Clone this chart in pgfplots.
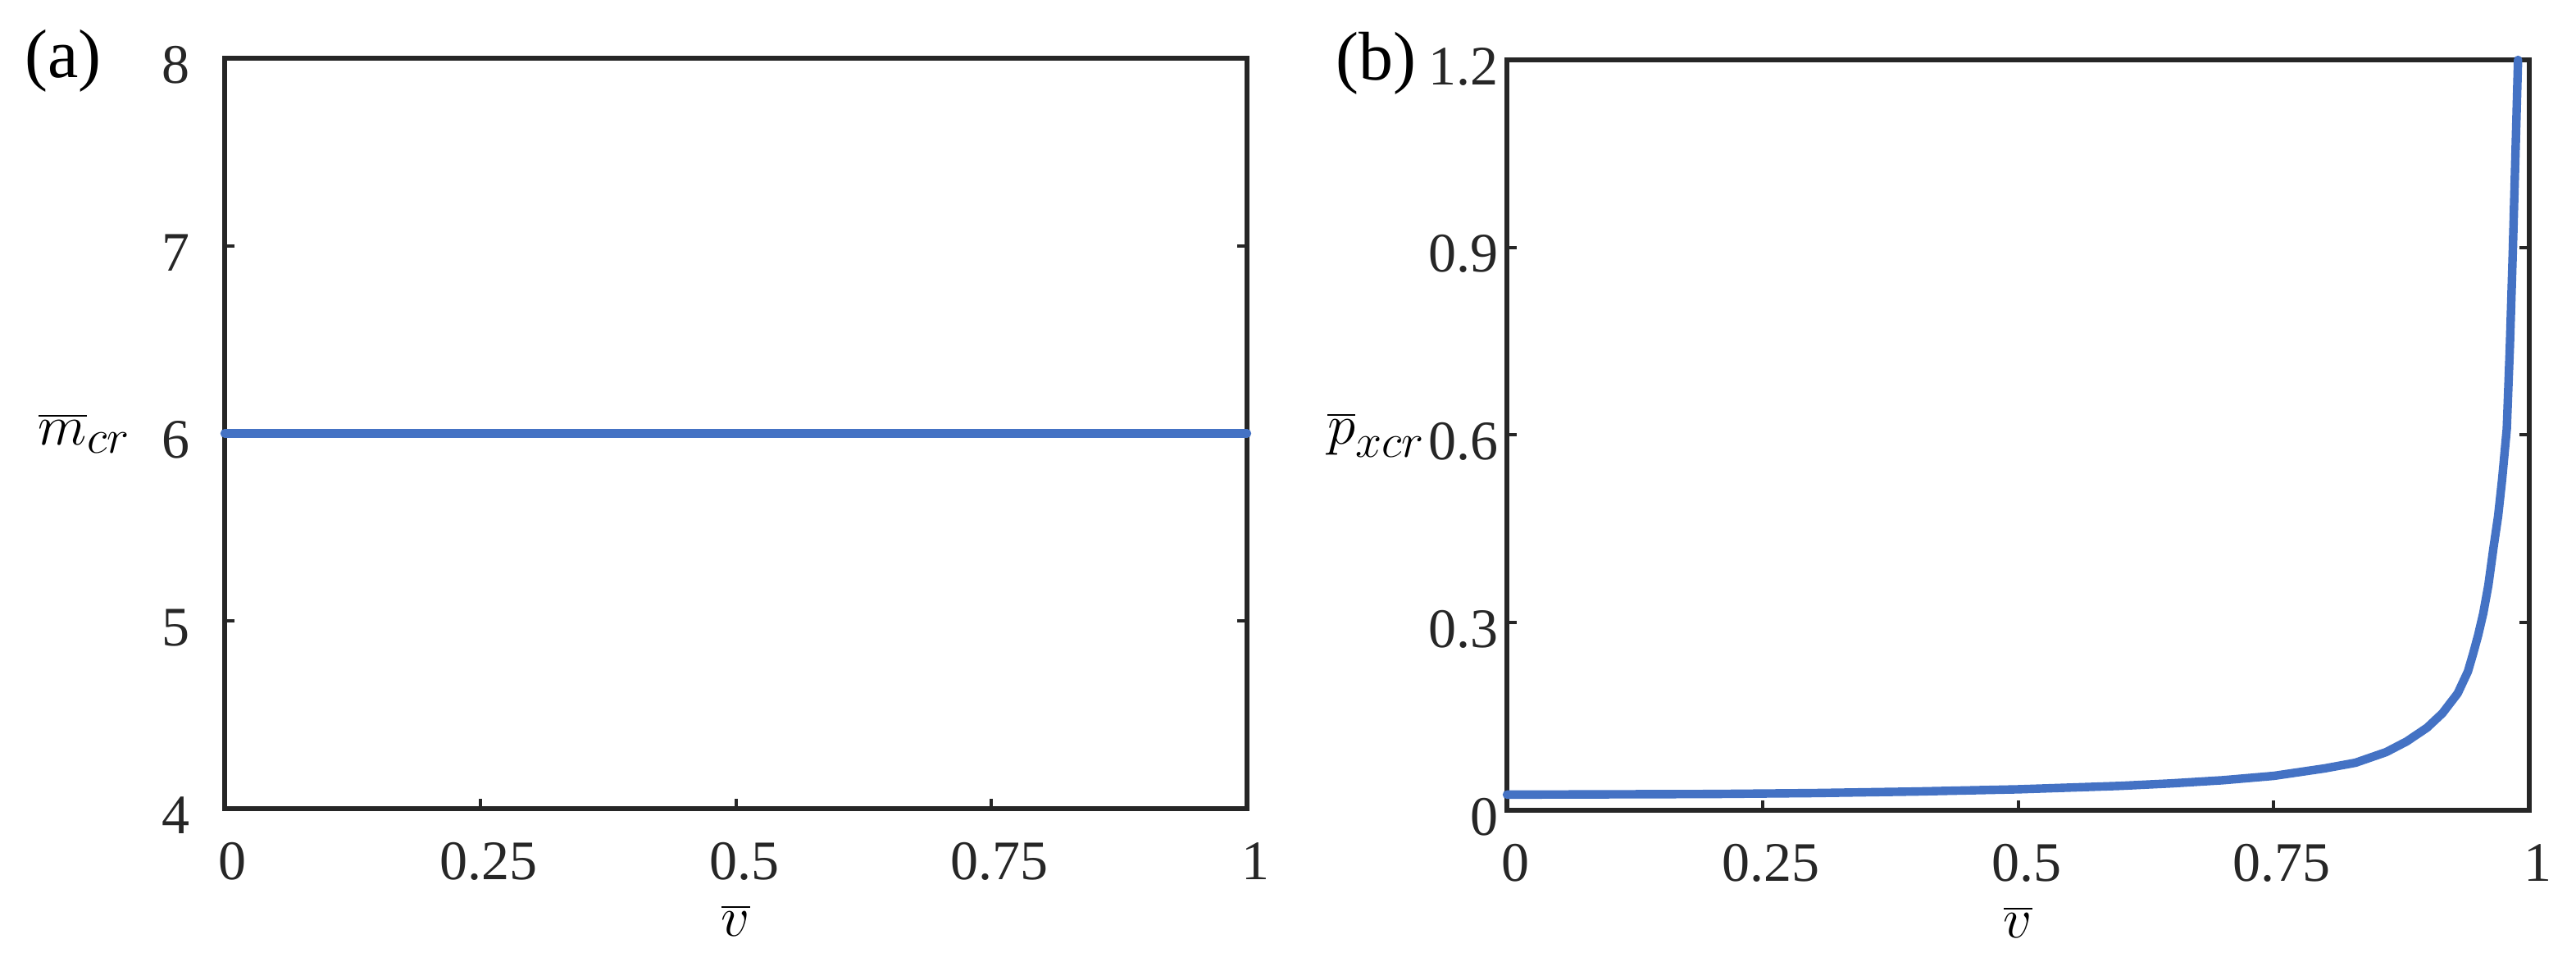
\documentclass[border=0pt]{standalone}
\usepackage{fontspec}
\setmainfont{Liberation Serif}
\usepackage{pgfplots}
\pgfplotsset{compat=1.18}
\definecolor{lineblue}{HTML}{4472C4}
\definecolor{axgray}{HTML}{262626}
\pgfplotsset{
  myaxis/.style={
    scale only axis, width=311.75pt, height=228.75pt,
    axis line style={axgray, line width=1.3pt},
    every tick/.style={axgray, line width=1pt},
    major tick length=3pt,
    tick align=inside,
    xtick pos=left, ytick pos=both,
    clip=false,
    /pgf/number format/assume math mode=true,
    tick label style={font=\fontsize{17}{20}\selectfont, text=axgray, inner sep=0pt},
    xticklabel style={anchor=center, yshift=-16pt, xshift=2.5pt},
    xmin=0, xmax=1, xtick={0,0.25,0.5,0.75,1},
    label style={font=\fontsize{19}{22}\selectfont},
    xlabel={$\overline{v}$},
    xlabel style={at={(axis description cs:0.5,-0.149)}, anchor=center},
    ylabel style={rotate=-90, anchor=center},
  }
}
\pgfplotstableread{
v p
0 0.025
0.1 0.0255
0.2 0.026
0.3 0.0275
0.4 0.030
0.5 0.0335
0.6 0.039
0.65 0.043
0.7 0.048
0.75 0.055
0.8 0.067
0.83 0.076
0.86 0.093
0.88 0.110
0.9 0.132
0.915 0.155
0.93 0.187
0.94 0.222
0.945 0.25
0.95 0.28
0.955 0.315
0.96 0.36
0.965 0.42
0.9695 0.47
0.9735 0.53
0.978 0.61
0.981 0.74
0.984 0.90
0.9865 1.05
0.989 1.2
}\pxcr
\begin{document}
\begin{tikzpicture}
\path[use as bounding box] (0,0) rectangle (785.5pt,-293.25pt);
\node[font=\fontsize{21}{24}\selectfont, inner sep=0pt] at (19.25pt,-18.5pt) {(a)};
\node[font=\fontsize{21}{24}\selectfont, inner sep=0pt] at (419.5pt,-19.25pt) {(b)};
\begin{axis}[myaxis,
  at={(68.5pt,-246.5pt)}, anchor=south west,
  ymin=4, ymax=8, ytick={4,5,6,7,8},
  yticklabel style={anchor=east, xshift=-10.5pt, yshift=-2pt},
  ylabel={$\overline{m}_{cr}$},
  ylabel style={at={(axis description cs:-0.137,0.5)}},
]
\addplot[lineblue, line width=2.6pt, line cap=round] coordinates {(0,6) (1,6)};
\end{axis}
\begin{axis}[myaxis,
  at={(459.5pt,-247pt)}, anchor=south west,
  ymin=0, ymax=1.2, ytick={0,0.3,0.6,0.9,1.2},
  yticklabel style={anchor=east, xshift=-2.5pt, yshift=-2pt},
  ylabel={$\overline{p}_{xcr}$},
  ylabel style={at={(axis description cs:-0.1275,0.5)}},
]
\addplot[lineblue, line width=2.6pt, line cap=round, line join=round] table[x=v, y=p] {\pxcr};
\end{axis}
\end{tikzpicture}
\end{document}
